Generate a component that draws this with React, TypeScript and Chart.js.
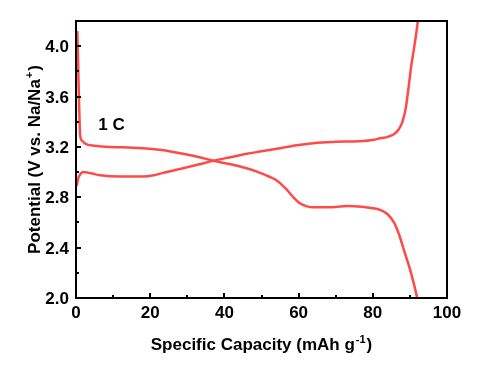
import React, { useEffect, useRef } from 'react';
import { Chart, registerables } from 'chart.js';

Chart.register(...registerables);

// Charge curve (lower at start, rising to 4.2 V)
const chargeCapacity = [0.2, 0.6, 1.2, 2, 4, 6.5, 12, 18, 21, 23, 26, 28, 33, 37, 42, 46, 50, 55, 60, 64, 70, 76, 80, 82.2, 84, 85.7, 87, 88, 88.9, 89.5, 90.3, 91.2, 92.1, 92.3];
const chargeVoltage = [2.89, 2.95, 2.985, 3.0, 2.99, 2.975, 2.965, 2.965, 2.975, 2.99, 3.01, 3.025, 3.06, 3.09, 3.12, 3.145, 3.165, 3.19, 3.215, 3.23, 3.24, 3.245, 3.255, 3.27, 3.28, 3.3, 3.34, 3.4, 3.51, 3.64, 3.83, 4.0, 4.19, 4.25];

// Discharge curve (starting high, dropping to 2.0 V)
const dischargeCapacity = [0.35, 0.5, 0.7, 0.9, 1.1, 1.6, 2.9, 5, 9.2, 14, 18, 23, 27, 33, 37, 42, 46, 50, 52, 54.3, 56.5, 58.6, 60.5, 62, 64, 68, 73, 77, 79.5, 82, 84, 85.7, 87, 88.5, 90.3, 91.9, 92.1];
const dischargeVoltage = [4.12, 3.95, 3.7, 3.47, 3.3, 3.25, 3.22, 3.21, 3.2, 3.195, 3.19, 3.175, 3.155, 3.12, 3.09, 3.06, 3.03, 2.99, 2.965, 2.93, 2.87, 2.8, 2.75, 2.73, 2.72, 2.72, 2.73, 2.725, 2.715, 2.7, 2.665, 2.6, 2.51, 2.37, 2.2, 2.01, 1.98];

const xTicks = [0, 20, 40, 60, 80, 100];
const xMinorTicks = [10, 30, 50, 70, 90];
const yTicks = [2.0, 2.4, 2.8, 3.2, 3.6, 4.0];
const yMinorTicks = [2.2, 2.6, 3.0, 3.4, 3.8];

const xTitleMain = 'Specific Capacity (mAh g';
const xTitleSup = '-1';
const yTitleMain = 'Potential (V vs. Na/Na';
const yTitleSup = '+';
const annotationText = '1 C';

const LINE_COLOR = '#ff4a4a';
const FONT = '"Liberation Sans", Arial, sans-serif';

const framePlugin = {
  id: 'framePlugin',
  afterDraw(chart: any) {
    const { ctx, chartArea: a, scales } = chart;
    const xs = scales.x;
    const ys = scales.y;
    ctx.save();
    ctx.strokeStyle = '#000';
    ctx.lineWidth = 2;
    ctx.strokeRect(a.left, a.top, a.right - a.left, a.bottom - a.top);

    ctx.lineWidth = 2;
    ctx.beginPath();
    xTicks.forEach((v) => {
      const px = Math.round(xs.getPixelForValue(v));
      ctx.moveTo(px, a.bottom);
      ctx.lineTo(px, a.bottom - 5);
    });
    xMinorTicks.forEach((v) => {
      const px = Math.round(xs.getPixelForValue(v));
      ctx.moveTo(px, a.bottom);
      ctx.lineTo(px, a.bottom - 3);
    });
    yTicks.forEach((v) => {
      const py = Math.round(ys.getPixelForValue(v));
      ctx.moveTo(a.left, py);
      ctx.lineTo(a.left + 5, py);
    });
    yMinorTicks.forEach((v) => {
      const py = Math.round(ys.getPixelForValue(v));
      ctx.moveTo(a.left, py);
      ctx.lineTo(a.left + 3, py);
    });
    ctx.stroke();

    ctx.fillStyle = '#000';
    ctx.font = `bold 17px ${FONT}`;
    ctx.textBaseline = 'alphabetic';
    ctx.textAlign = 'center';
    xTicks.forEach((v) => {
      ctx.fillText(String(v), xs.getPixelForValue(v), a.bottom + 20);
    });
    ctx.textAlign = 'right';
    yTicks.forEach((v) => {
      ctx.fillText(v.toFixed(1), a.left - 7, ys.getPixelForValue(v) + 6);
    });

    // annotation
    ctx.textAlign = 'left';
    ctx.font = `bold 17px ${FONT}`;
    ctx.fillText(annotationText, xs.getPixelForValue(6), ys.getPixelForValue(3.335));

    // x title
    const mainFont = `bold 17px ${FONT}`;
    const supFont = `bold 11px ${FONT}`;
    ctx.font = mainFont;
    const wMain = ctx.measureText(xTitleMain).width;
    const wClose = ctx.measureText(')').width;
    ctx.font = supFont;
    const wSup = ctx.measureText(xTitleSup).width;
    const total = wMain + 1 + wSup + 1 + wClose;
    const x0 = (a.left + a.right) / 2 - total / 2;
    const base = 350;
    ctx.textAlign = 'left';
    ctx.font = mainFont;
    ctx.fillText(xTitleMain, x0, base);
    ctx.font = supFont;
    ctx.fillText(xTitleSup, x0 + wMain + 1, base - 7);
    ctx.font = mainFont;
    ctx.fillText(')', x0 + wMain + 1 + wSup + 1, base);

    // y title
    ctx.save();
    ctx.translate(40, (a.top + a.bottom) / 2);
    ctx.rotate(-Math.PI / 2);
    ctx.font = mainFont;
    const wyMain = ctx.measureText(yTitleMain).width;
    ctx.font = supFont;
    const wySup = ctx.measureText(yTitleSup).width;
    const ytotal = wyMain + 1 + wySup + 1 + wClose;
    const y0 = -ytotal / 2;
    ctx.font = mainFont;
    ctx.fillText(yTitleMain, y0, 0);
    ctx.font = supFont;
    ctx.fillText(yTitleSup, y0 + wyMain + 1, -7);
    ctx.font = mainFont;
    ctx.fillText(')', y0 + wyMain + 1 + wySup + 1, 0);
    ctx.restore();

    ctx.restore();
  },
};

export default function App() {
  const ref = useRef<HTMLCanvasElement | null>(null);

  useEffect(() => {
    if (!ref.current) return;
    const chart = new Chart(ref.current, {
      type: 'scatter',
      data: {
        datasets: [
          {
            label: 'Charge',
            data: chargeCapacity.map((c, i) => ({ x: c, y: chargeVoltage[i] })),
            showLine: true,
            borderColor: LINE_COLOR,
            borderWidth: 2.5,
            pointRadius: 0,
            cubicInterpolationMode: 'monotone',
            fill: false,
          },
          {
            label: 'Discharge',
            data: dischargeCapacity.map((c, i) => ({ x: c, y: dischargeVoltage[i] })),
            showLine: true,
            borderColor: LINE_COLOR,
            borderWidth: 2.5,
            pointRadius: 0,
            cubicInterpolationMode: 'monotone',
            fill: false,
          },
        ],
      },
      options: {
        animation: false,
        responsive: false,
        devicePixelRatio: 1,
        layout: { padding: { left: 76, top: 21, right: 36, bottom: 68 } },
        plugins: { legend: { display: false }, tooltip: { enabled: false } },
        scales: {
          x: { type: 'linear', min: 0, max: 100, display: false },
          y: { type: 'linear', min: 2.0, max: 4.2, display: false },
        },
      },
      plugins: [framePlugin],
    });
    return () => chart.destroy();
  }, []);

  return (
    <div style={{ position: 'fixed', left: 0, top: 0, width: 483, height: 366, background: '#fff' }}>
      <canvas ref={ref} width={483} height={366} style={{ width: 483, height: 366 }} />
    </div>
  );
}
